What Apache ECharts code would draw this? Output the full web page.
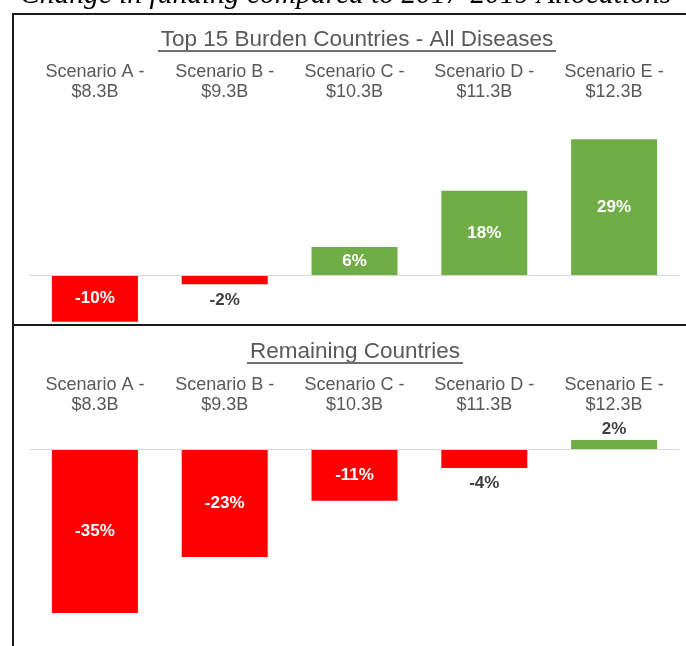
<!DOCTYPE html>
<html><head><meta charset="utf-8">
<script src="https://cdn.jsdelivr.net/npm/echarts@6/dist/echarts.min.js"></script>
<style>html,body{margin:0;padding:0;background:#fff}#c{width:686px;height:646px}</style>
</head><body><div id="c"></div>
<script>
const headerText = 'Change in funding compared to 2017-2019 Allocations';
const topTitle = 'Top 15 Burden Countries - All Diseases';
const bottomTitle = 'Remaining Countries';
const categories = ['Scenario A -\n$8.3B', 'Scenario B -\n$9.3B', 'Scenario C -\n$10.3B', 'Scenario D -\n$11.3B', 'Scenario E -\n$12.3B'];
const topValues = [-10, -2, 6, 18, 29];
const bottomValues = [-35, -23, -11, -4, 2];
const topRange = [-10, 30];
const bottomRange = [-35, 5];

const RED = '#FF0000', GREEN = '#70AD47', GRAY = '#595959';
const FONT = 'Liberation Sans';

function items(vals) {
  return vals.map(v => {
    const outside = Math.abs(v) < 5;
    return {
      value: v,
      itemStyle: { color: v < 0 ? RED : GREEN },
      label: outside
        ? { position: v < 0 ? 'bottom' : 'top', distance: v < 0 ? 7 : 2, color: '#404040' }
        : { position: 'inside', color: '#ffffff' }
    };
  });
}

const chart = echarts.init(document.getElementById('c'), null, { renderer: 'canvas' });

function xAxis(gi, margin) {
  return {
    gridIndex: gi, type: 'category', data: categories, position: 'top',
    axisLine: { show: false }, axisTick: { show: false }, splitLine: { show: false },
    axisLabel: { interval: 0, margin: margin, color: GRAY, fontSize: 18, lineHeight: 20, fontFamily: FONT }
  };
}
function yAxis(gi, r) {
  return { gridIndex: gi, type: 'value', min: r[0], max: r[1], show: false, splitLine: { show: false } };
}
function series(gi, vals) {
  return {
    type: 'bar', xAxisIndex: gi, yAxisIndex: gi, data: items(vals), barWidth: 86,
    label: { show: true, formatter: '{c}%', fontSize: 17, fontWeight: 'bold', fontFamily: FONT },
    markLine: {
      silent: true, symbol: 'none', label: { show: false },
      lineStyle: { color: '#d9d9d9', width: 1, type: 'solid' },
      data: [{ yAxis: 0 }]
    },
    z: 3
  };
}

chart.setOption({
  animation: false,
  backgroundColor: '#ffffff',
  grid: [
    { left: 30, right: 7, top: 134.6, height: 187.2 },
    { left: 30, right: 7, top: 425.9, height: 187.2 }
  ],
  xAxis: [xAxis(0, 32.6), xAxis(1, 10.9)],
  yAxis: [yAxis(0, topRange), yAxis(1, bottomRange)],
  series: [series(0, topValues), series(1, bottomValues)],
  graphic: [
    { type: 'text', left: 20, top: -20, style: { text: headerText, font: 'italic 29.5px "Liberation Serif"', fill: '#000' } },
    { type: 'line', shape: { x1: 12, y1: 14, x2: 686, y2: 14 }, style: { stroke: '#1a1a1a', lineWidth: 2 } },
    { type: 'line', shape: { x1: 13, y1: 13, x2: 13, y2: 646 }, style: { stroke: '#1a1a1a', lineWidth: 2 } },
    { type: 'line', shape: { x1: 12, y1: 325, x2: 686, y2: 325 }, style: { stroke: '#1a1a1a', lineWidth: 2 } },
    { type: 'text', x: 357, y: 40, style: { text: topTitle, fontSize: 22.5, fontFamily: FONT, fill: GRAY, align: 'center', verticalAlign: 'middle' } },
    { type: 'line', shape: { x1: 158, y1: 51, x2: 556, y2: 51 }, style: { stroke: '#6f6f6f', lineWidth: 2 } },
    { type: 'text', x: 355, y: 352, style: { text: bottomTitle, fontSize: 22.5, fontFamily: FONT, fill: GRAY, align: 'center', verticalAlign: 'middle' } },
    { type: 'line', shape: { x1: 247, y1: 363, x2: 463, y2: 363 }, style: { stroke: '#6f6f6f', lineWidth: 2 } }
  ]
});
</script>
</body></html>
